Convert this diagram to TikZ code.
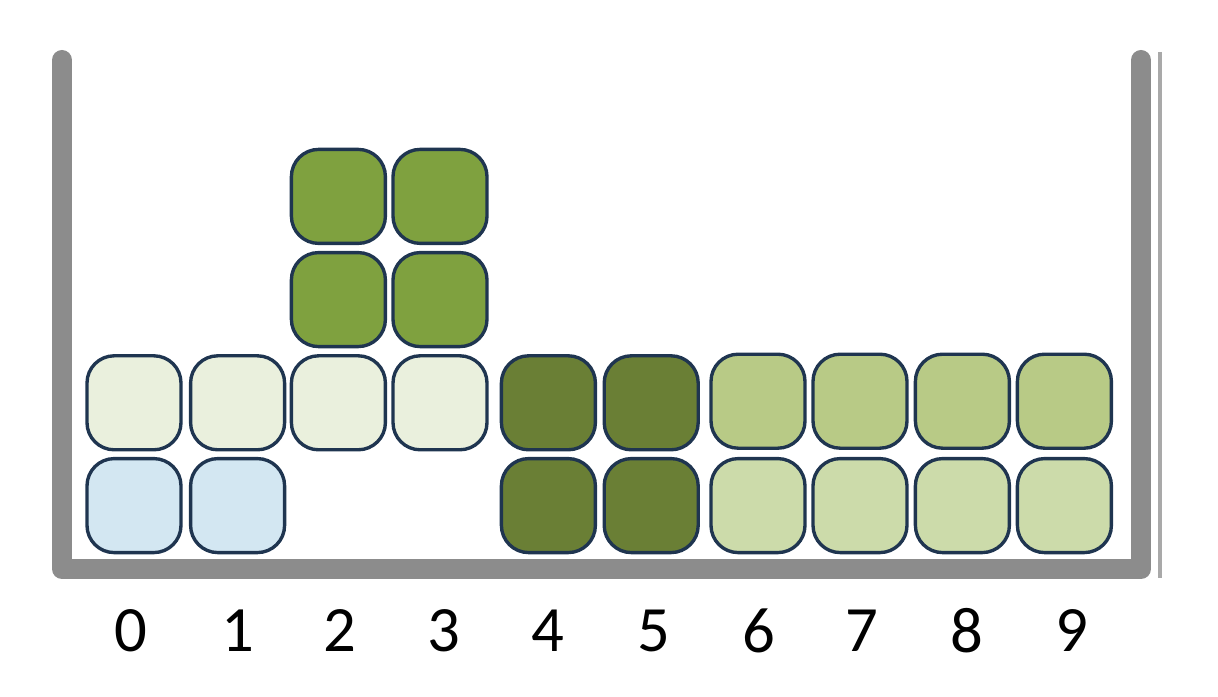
\documentclass[tikz,border=0pt]{standalone}
\usepackage{fontspec}
\setmainfont{Carlito}
\usepackage{tikz}
\usetikzlibrary{calc}
\usepackage{xcolor}

\definecolor{cellline}{HTML}{1F3550}
\definecolor{cellblue}{HTML}{D3E7F2}
\definecolor{cellpale}{HTML}{EAF0DD}
\definecolor{cellgreen}{HTML}{7FA13F}
\definecolor{celldark}{HTML}{6A7F35}
\definecolor{cellmid}{HTML}{B8CA86}
\definecolor{celllight}{HTML}{CCDBAA}
\definecolor{wallgray}{HTML}{8C8C8C}

\begin{document}
\begin{tikzpicture}[
  cell/.style={rectangle, draw=cellline, line width=2.4pt, fill=cellpale, minimum width=2.35cm, minimum height=2.35cm, inner sep=0pt, rounded corners=0.68cm},
  wall/.style={draw=wallgray, line width=0.5cm, line cap=round, line join=round},
  num/.style={font=\fontsize{46}{50}\selectfont, inner sep=0pt},
]
\useasboundingbox (0,0) rectangle (30.45,17.4);

% container
\coordinate (topleft) at (1.55,15.9);
\coordinate (botleft) at (1.55,3.175);
\coordinate (botright) at (28.525,3.175);
\coordinate (topright) at (28.525,15.9);
\draw[wall] (topleft) -- (botleft) -- (botright) -- (topright);
\coordinate (edgetop) at (29.0,16.1);
\coordinate (edgebot) at (29.0,2.95);
\draw[wallgray!75, line width=3pt] (edgetop) -- (edgebot);

% columns 0-3
\node[cell, fill=cellblue] (c0r1) at (3.35,4.76) {};
\node[cell, fill=cellblue] (c1r1) at (5.94,4.76) {};
\node[cell] (c0r2) at (3.35,7.33) {};
\node[cell] (c1r2) at (5.94,7.33) {};
\node[cell] (c2r2) at (8.46,7.33) {};
\node[cell] (c3r2) at (11.0,7.33) {};
\node[cell, fill=cellgreen] (c2r3) at (8.46,9.91) {};
\node[cell, fill=cellgreen] (c3r3) at (11.0,9.91) {};
\node[cell, fill=cellgreen] (c2r4) at (8.46,12.49) {};
\node[cell, fill=cellgreen] (c3r4) at (11.0,12.49) {};

% columns 4-5
\node[cell, fill=celldark] (c4r1) at (13.71,4.76) {};
\node[cell, fill=celldark] (c5r1) at (16.28,4.76) {};
\node[cell, fill=celldark] (c4r2) at (13.71,7.33) {};
\node[cell, fill=celldark] (c5r2) at (16.28,7.33) {};

% columns 6-9
\node[cell, fill=celllight] (c6r1) at (18.95,4.76) {};
\node[cell, fill=celllight] (c7r1) at (21.5,4.76) {};
\node[cell, fill=celllight] (c8r1) at (24.06,4.76) {};
\node[cell, fill=celllight] (c9r1) at (26.61,4.76) {};
\node[cell, fill=cellmid] (c6r2) at (18.95,7.37) {};
\node[cell, fill=cellmid] (c7r2) at (21.5,7.37) {};
\node[cell, fill=cellmid] (c8r2) at (24.06,7.37) {};
\node[cell, fill=cellmid] (c9r2) at (26.61,7.37) {};

% slot numbers
\node[num] (n0) at (3.275,1.625) {0};
\node[num] (n1) at (5.95,1.625) {1};
\node[num] (n2) at (8.5,1.625) {2};
\node[num] (n3) at (11.1,1.625) {3};
\node[num] (n4) at (13.7,1.625) {4};
\node[num] (n5) at (16.35,1.625) {5};
\node[num] (n6) at (18.98,1.625) {6};
\node[num] (n7) at (21.55,1.625) {7};
\node[num] (n8) at (24.17,1.625) {8};
\node[num] (n9) at (26.8,1.625) {9};

\end{tikzpicture}
\end{document}
